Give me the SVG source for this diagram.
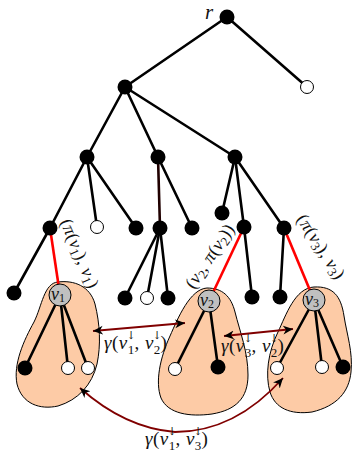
<svg xmlns="http://www.w3.org/2000/svg" width="355" height="455" viewBox="0 0 355 455">
<style>
.e{stroke:#000;stroke-width:2.6;fill:none;stroke-linecap:round}
.red{stroke:#ff0000;stroke-width:2.6;fill:none}
.b{fill:#000}
.w{fill:#fff;stroke:#000;stroke-width:1}
.g{fill:#c0c0c0;stroke:#000;stroke-width:1}
.blob{fill:#fdcba6;stroke:#000;stroke-width:1}
.arr{stroke:#800000;stroke-width:1.8;fill:none;marker-start:url(#ah);marker-end:url(#ah)}
text{font-family:"Liberation Serif","DejaVu Serif",serif;fill:#111}
.t{font-size:19px;letter-spacing:0.5px}
.el{font-size:18px;letter-spacing:0.3px}
.it{font-style:italic}
.sub{font-size:13px;letter-spacing:0}
.dn{font-family:"DejaVu Serif",serif;font-size:11px;letter-spacing:0;fill:#111}
.nl{font-size:18px}
.nls{font-size:12px}
</style>
<defs>
<marker id="ah" markerUnits="userSpaceOnUse" markerWidth="12" markerHeight="10" refX="10" refY="4.5" orient="auto-start-reverse">
<path d="M0,0 L10,4.5 L0,9 L3,4.5 Z" fill="#000"/>
</marker>
</defs>

<g id="clusters">
<path id="cluster-v1" class="blob" d="M58,282 C74,280 90,286 95,304 C100,324 101,345 97,364 C92,385 78,400 58,406 C40,410 22,404 17,384 C13,364 24,340 34,322 C42,306 44,283 58,282 Z"/>
<path id="cluster-v2" class="blob" d="M207,288 C222,288 231,296 235,312 C240,332 248,352 248,375 C248,398 236,410 212,414 C190,417 168,414 161,398 C155,382 160,358 170,336 C178,318 190,289 207,288 Z"/>
<path id="cluster-v3" class="blob" d="M314,287 C333,286 341,296 344,316 C347,335 353,352 351,372 C349,392 337,406 312,412 C290,415 275,408 270,392 C265,375 268,352 278,332 C286,315 295,288 314,287 Z"/>
</g>

<g id="connectors">
<line class="e" x1="227" y1="17" x2="125" y2="87"/>
<line class="e" x1="227" y1="17" x2="307" y2="87"/>
<line class="e" x1="125" y1="87" x2="87" y2="157"/>
<line class="e" x1="125" y1="87" x2="158" y2="157"/>
<line class="e" x1="125" y1="87" x2="235" y2="157"/>
<line class="e" x1="87" y1="157" x2="50" y2="228"/>
<line class="e" x1="87" y1="157" x2="97" y2="227"/>
<line class="e" x1="87" y1="157" x2="136" y2="228"/>
<line class="e" x1="50" y1="228" x2="14" y2="293"/>
<line class="red" x1="50" y1="228" x2="60" y2="295"/>
<line class="e" x1="158" y1="157" x2="160" y2="228" style="stroke:#200000"/>
<line class="e" x1="158" y1="157" x2="192" y2="228"/>
<line class="e" x1="160" y1="228" x2="125" y2="298"/>
<line class="e" x1="160" y1="228" x2="147" y2="298"/>
<line class="e" x1="160" y1="228" x2="168" y2="298"/>
<line class="e" x1="235" y1="157" x2="222" y2="213"/>
<line class="e" x1="235" y1="157" x2="244" y2="227"/>
<line class="e" x1="235" y1="157" x2="284" y2="228"/>
<line class="red" x1="244" y1="227" x2="209" y2="301"/>
<line class="e" x1="244" y1="227" x2="252" y2="297"/>
<line class="e" x1="284" y1="228" x2="280" y2="297"/>
<line class="red" x1="284" y1="228" x2="314" y2="300"/>
<line class="e" x1="60" y1="295" x2="25" y2="368"/>
<line class="e" x1="60" y1="295" x2="68" y2="368"/>
<line class="e" x1="60" y1="295" x2="88" y2="368"/>
<line class="e" x1="209" y1="301" x2="175" y2="369"/>
<line class="e" x1="209" y1="301" x2="218" y2="367"/>
<line class="e" x1="314" y1="300" x2="277" y2="368"/>
<line class="e" x1="314" y1="300" x2="322" y2="367"/>
<line class="e" x1="314" y1="300" x2="343" y2="367"/>
<line class="arr" x1="93" y1="331" x2="185" y2="323"/>
<line class="arr" x1="224" y1="336" x2="293" y2="329"/>
<path class="arr" d="M80,388 Q125,428 175,432 Q235,432 283,378"/>
</g>

<g id="node-r"><circle class="b" cx="227" cy="17" r="7.5"/><text class="it" style="font-size:21px" x="205" y="19">r</text></g>
<g id="node-rw"><circle class="w" cx="307" cy="87" r="6.5"/></g>
<g id="node-a"><circle class="b" cx="125" cy="87" r="7.5"/></g>
<g id="node-b"><circle class="b" cx="87" cy="157" r="7.5"/></g>
<g id="node-c"><circle class="b" cx="158" cy="157" r="7.5"/></g>
<g id="node-d"><circle class="b" cx="235" cy="157" r="7.5"/></g>
<g id="node-e"><circle class="b" cx="50" cy="228" r="7.5"/></g>
<g id="node-bw"><circle class="w" cx="97" cy="227" r="6.5"/></g>
<g id="node-bb"><circle class="b" cx="136" cy="228" r="7.5"/></g>
<g id="node-f"><circle class="b" cx="14" cy="293" r="7.5"/></g>
<g id="node-g"><circle class="b" cx="160" cy="228" r="7.5"/></g>
<g id="node-cb"><circle class="b" cx="192" cy="228" r="7.5"/></g>
<g id="node-g1"><circle class="b" cx="125" cy="298" r="7.5"/></g>
<g id="node-g2"><circle class="w" cx="147" cy="298" r="6.5"/></g>
<g id="node-g3"><circle class="b" cx="168" cy="298" r="7.5"/></g>
<g id="node-d1"><circle class="b" cx="222" cy="213" r="7.5"/></g>
<g id="node-h"><circle class="b" cx="244" cy="227" r="7.5"/></g>
<g id="node-i"><circle class="b" cx="284" cy="228" r="7.5"/></g>
<g id="node-h1"><circle class="b" cx="252" cy="297" r="7.5"/></g>
<g id="node-i1"><circle class="b" cx="280" cy="297" r="7.5"/></g>
<g id="node-v1"><circle class="g" cx="60" cy="295" r="11"/><text class="nl" x="51" y="300"><tspan class="it">v</tspan><tspan class="nls" dy="2">1</tspan></text></g>
<g id="node-v2"><circle class="g" cx="209" cy="301" r="11"/><text class="nl" x="200" y="306"><tspan class="it">v</tspan><tspan class="nls" dy="2">2</tspan></text></g>
<g id="node-v3"><circle class="g" cx="314" cy="300" r="11"/><text class="nl" x="305" y="305"><tspan class="it">v</tspan><tspan class="nls" dy="2">3</tspan></text></g>
<g id="node-v1a"><circle class="b" cx="25" cy="368" r="7.5"/></g>
<g id="node-v1b"><circle class="w" cx="68" cy="368" r="6.5"/></g>
<g id="node-v1c"><circle class="w" cx="88" cy="368" r="6.5"/></g>
<g id="node-v2a"><circle class="w" cx="175" cy="369" r="6.5"/></g>
<g id="node-v2b"><circle class="b" cx="218" cy="367" r="7.5"/></g>
<g id="node-v3a"><circle class="w" cx="277" cy="368" r="6.5"/></g>
<g id="node-v3b"><circle class="w" cx="322" cy="367" r="6.5"/></g>
<g id="node-v3c"><circle class="b" cx="343" cy="367" r="7.5"/></g>

<g id="labels">
<text class="el" transform="translate(60,222) rotate(67)">(<tspan class="it">π</tspan>(<tspan class="it">v</tspan><tspan class="sub" dy="3">1</tspan><tspan dy="-3">), </tspan><tspan class="it">v</tspan><tspan class="sub" dy="3">1</tspan><tspan dy="-3">)</tspan></text>
<text class="el" transform="translate(194,290) rotate(-56)">(<tspan class="it">v</tspan><tspan class="sub" dy="3">2</tspan><tspan dy="-3">, </tspan><tspan class="it">π</tspan>(<tspan class="it">v</tspan><tspan class="sub" dy="3">2</tspan><tspan dy="-3">))</tspan></text>
<text class="el" transform="translate(296,219) rotate(57)">(<tspan class="it">π</tspan>(<tspan class="it">v</tspan><tspan class="sub" dy="3">3</tspan><tspan dy="-3">), </tspan><tspan class="it">v</tspan><tspan class="sub" dy="3">3</tspan><tspan dy="-3">)</tspan></text>
<text class="t" x="104" y="349"><tspan class="it">γ</tspan>(<tspan class="it">v</tspan><tspan class="sub" dy="5">1</tspan><tspan class="dn" dx="-7.8" dy="-15">↓</tspan><tspan dx="-1.3" dy="10">, </tspan><tspan class="it">v</tspan><tspan class="sub" dy="5">2</tspan><tspan class="dn" dx="-7.8" dy="-15">↓</tspan><tspan dx="-1.3" dy="10">)</tspan></text>
<text class="t" x="221" y="352"><tspan class="it">γ</tspan>(<tspan class="it">v</tspan><tspan class="sub" dy="5">3</tspan><tspan class="dn" dx="-7.8" dy="-15">↓</tspan><tspan dx="-1.3" dy="10">, </tspan><tspan class="it">v</tspan><tspan class="sub" dy="5">2</tspan><tspan class="dn" dx="-7.8" dy="-15">↓</tspan><tspan dx="-1.3" dy="10">)</tspan></text>
<text class="t" x="145" y="445"><tspan class="it">γ</tspan>(<tspan class="it">v</tspan><tspan class="sub" dy="5">1</tspan><tspan class="dn" dx="-7.8" dy="-15">↓</tspan><tspan dx="-1.3" dy="10">, </tspan><tspan class="it">v</tspan><tspan class="sub" dy="5">3</tspan><tspan class="dn" dx="-7.8" dy="-15">↓</tspan><tspan dx="-1.3" dy="10">)</tspan></text>
</g>
</svg>
